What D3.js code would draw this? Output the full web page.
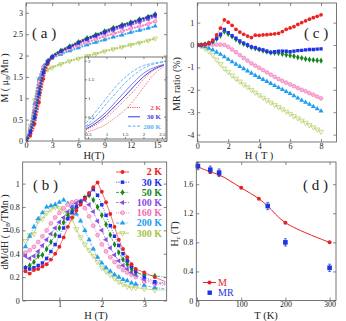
<!DOCTYPE html>
<html>
<head>
<meta charset="utf-8">
<script src="https://cdn.jsdelivr.net/npm/d3@7"></script>
<style>
  body { margin: 0; background: #fff; }
  svg { display: block; }
</style>
</head>
<body>
<script>
let w = 346;
let h = 321;

// ---- (a) M vs H, main plot
const hA = [0, 0.5, 1, 1.5, 2, 2.5, 3, 4, 5, 6, 7, 8, 9, 10, 11, 12, 13, 14, 14.8];
const mA_2 = [0, 0.12, 0.4, 0.9, 1.45, 1.8, 1.95, 2.1, 2.2, 2.3, 2.4, 2.48, 2.56, 2.64, 2.71, 2.77, 2.83, 2.9, 2.96];
const mA_30 = [0, 0.2, 0.55, 1.1, 1.6, 1.85, 1.97, 2.1, 2.2, 2.3, 2.39, 2.47, 2.55, 2.63, 2.7, 2.76, 2.83, 2.9, 2.95];
const mA_50 = [0, 0.22, 0.6, 1.15, 1.62, 1.86, 1.98, 2.12, 2.22, 2.32, 2.41, 2.49, 2.57, 2.65, 2.72, 2.78, 2.85, 2.91, 2.97];
const mA_100 = [0, 0.25, 0.68, 1.25, 1.68, 1.88, 1.97, 2.1, 2.2, 2.29, 2.37, 2.45, 2.52, 2.59, 2.66, 2.72, 2.78, 2.85, 2.91];
const mA_160 = [0, 0.3, 0.8, 1.38, 1.73, 1.88, 1.96, 2.07, 2.16, 2.24, 2.31, 2.38, 2.45, 2.51, 2.57, 2.63, 2.68, 2.74, 2.8];
const mA_200 = [0, 0.32, 0.88, 1.45, 1.75, 1.87, 1.94, 2.03, 2.11, 2.18, 2.25, 2.31, 2.37, 2.43, 2.48, 2.54, 2.59, 2.64, 2.69];
const mA_300 = [0, 0.36, 0.95, 1.45, 1.6, 1.67, 1.72, 1.8, 1.87, 1.93, 1.99, 2.04, 2.1, 2.15, 2.2, 2.25, 2.3, 2.35, 2.4];

// ---- (a) inset, low-field loops (two branches each)
const hIn = [0.45, 0.75, 1, 1.25, 1.5, 1.75, 2, 2.25, 2.55];
const in2up = [0.08, 0.18, 0.3, 0.48, 0.68, 0.95, 1.28, 1.6, 1.85];
const in2dn = [0.15, 0.3, 0.48, 0.7, 0.95, 1.2, 1.5, 1.72, 1.9];
const in30up = [0.17, 0.35, 0.55, 0.8, 1.05, 1.32, 1.57, 1.75, 1.88];
const in30dn = [0.22, 0.42, 0.63, 0.9, 1.17, 1.43, 1.66, 1.8, 1.9];
const in200up = [0.25, 0.55, 0.85, 1.12, 1.4, 1.62, 1.8, 1.9, 1.96];
const in200dn = [0.33, 0.68, 1.0, 1.3, 1.55, 1.74, 1.87, 1.93, 1.98];

// ---- (b) dM/dH vs H
const hB = [0.2, 0.3, 0.4, 0.5, 0.6, 0.7, 0.8, 0.9, 1.0, 1.1, 1.2, 1.3, 1.4, 1.5, 1.6, 1.7, 1.8, 1.9, 2.0, 2.1, 2.2, 2.3, 2.4, 2.5, 2.6, 2.7, 2.8, 3.0, 3.25, 3.5];
const dB_2 = [0.25, 0.23, 0.26, 0.27, 0.29, 0.31, 0.35, 0.4, 0.46, 0.54, 0.63, 0.71, 0.77, 0.82, 0.87, 0.92, 0.97, 1.01, 0.93, 0.84, 0.74, 0.63, 0.52, 0.44, 0.37, 0.31, 0.27, 0.24, 0.2, 0.16];
const dB_30 = [0.28, 0.27, 0.28, 0.3, 0.32, 0.36, 0.42, 0.48, 0.55, 0.62, 0.7, 0.75, 0.8, 0.84, 0.88, 0.91, 0.95, 0.9, 0.82, 0.73, 0.64, 0.55, 0.47, 0.4, 0.34, 0.29, 0.25, 0.2, 0.16, 0.15];
const dB_50 = [0.28, 0.3, 0.33, 0.38, 0.39, 0.44, 0.5, 0.56, 0.62, 0.67, 0.73, 0.77, 0.8, 0.84, 0.88, 0.9, 0.86, 0.8, 0.73, 0.65, 0.56, 0.48, 0.41, 0.35, 0.31, 0.27, 0.24, 0.22, 0.21, 0.2];
const dB_100 = [0.38, 0.36, 0.38, 0.42, 0.47, 0.52, 0.57, 0.62, 0.67, 0.71, 0.76, 0.8, 0.83, 0.85, 0.86, 0.82, 0.76, 0.68, 0.6, 0.52, 0.45, 0.39, 0.34, 0.3, 0.27, 0.24, 0.22, 0.18, 0.15, 0.14];
const dB_160 = [0.41, 0.43, 0.46, 0.5, 0.55, 0.6, 0.66, 0.71, 0.75, 0.79, 0.82, 0.84, 0.85, 0.85, 0.79, 0.72, 0.64, 0.56, 0.48, 0.42, 0.37, 0.33, 0.29, 0.26, 0.24, 0.22, 0.2, 0.16, 0.14, 0.13];
const dB_200 = [0.46, 0.55, 0.63, 0.7, 0.75, 0.8, 0.81, 0.82, 0.84, 0.86, 0.83, 0.8, 0.74, 0.68, 0.6, 0.52, 0.44, 0.37, 0.32, 0.28, 0.25, 0.22, 0.2, 0.18, 0.17, 0.15, 0.14, 0.13, 0.11, 0.1];
const dB_300 = [0.51, 0.56, 0.57, 0.68, 0.7, 0.75, 0.78, 0.8, 0.79, 0.77, 0.73, 0.7, 0.61, 0.54, 0.48, 0.43, 0.38, 0.33, 0.28, 0.25, 0.22, 0.19, 0.16, 0.14, 0.12, 0.11, 0.11, 0.1, 0.09, 0.09];

// ---- (c) MR ratio vs H
const hC = [0, 0.25, 0.5, 0.75, 1, 1.25, 1.5, 1.75, 2, 2.25, 2.5, 2.75, 3, 3.25, 3.5, 3.75, 4, 4.25, 4.5, 4.75, 5, 5.25, 5.5, 5.75, 6, 6.25, 6.5, 6.75, 7, 7.25, 7.5, 7.75, 8];
const mr_2 = [0, 0, 0.03, 0.1, 0.22, 0.45, 0.75, 1.12, 1.02, 0.88, 0.7, 0.58, 0.48, 0.4, 0.33, 0.44, 0.43, 0.45, 0.46, 0.48, 0.5, 0.52, 0.6, 0.7, 0.76, 0.82, 0.92, 1.0, 1.08, 1.15, 1.22, 1.28, 1.35];
const mr_30 = [0, 0, 0.03, 0.08, 0.18, 0.3, 0.48, 0.7, 0.55, 0.42, 0.3, 0.18, 0.08, 0, -0.08, -0.12, -0.18, -0.22, -0.28, -0.33, -0.3, -0.28, -0.27, -0.28, -0.3, -0.27, -0.25, -0.24, -0.22, -0.2, -0.2, -0.18, -0.17];
const mr_50 = [0, 0, 0.03, 0.08, 0.15, 0.27, 0.42, 0.6, 0.5, 0.38, 0.25, 0.13, 0.05, -0.02, -0.1, -0.15, -0.2, -0.25, -0.3, -0.34, -0.35, -0.36, -0.4, -0.44, -0.47, -0.5, -0.55, -0.58, -0.62, -0.65, -0.67, -0.69, -0.7];
const mr_160 = [0, 0, 0, 0.01, 0.02, 0.02, 0.02, 0, -0.08, -0.2, -0.32, -0.45, -0.58, -0.7, -0.82, -0.92, -1.02, -1.12, -1.22, -1.32, -1.42, -1.52, -1.6, -1.68, -1.76, -1.84, -1.92, -2.0, -2.07, -2.15, -2.22, -2.3, -2.38];
const mr_200 = [0, -0.03, -0.08, -0.15, -0.22, -0.32, -0.42, -0.53, -0.64, -0.75, -0.86, -0.96, -1.06, -1.16, -1.26, -1.36, -1.45, -1.54, -1.63, -1.72, -1.81, -1.9, -1.99, -2.08, -2.17, -2.27, -2.37, -2.47, -2.56, -2.65, -2.75, -2.85, -2.95];
const mr_300 = [0, -0.05, -0.15, -0.28, -0.45, -0.65, -0.85, -1.05, -1.2, -1.35, -1.5, -1.63, -1.76, -1.88, -2.0, -2.12, -2.24, -2.35, -2.46, -2.57, -2.67, -2.77, -2.87, -2.97, -3.07, -3.17, -3.27, -3.37, -3.47, -3.57, -3.67, -3.77, -3.87];

// ---- (d) critical field vs T
const tM = [2, 30, 50, 100, 140, 160, 200, 300];
const hcM = [1.84, 1.77, 1.73, 1.55, 1.4, 1.3, 1.07, 0.8];
const tMR = [2, 30, 50, 160, 200, 300];
const hcMR = [1.85, 1.8, 1.76, 1.3, 0.8, 0.45];
const errMR = [0.05, 0.05, 0.05, 0.05, 0.05, 0.05];

// tick values
const ticksAx = [0, 3, 6, 9, 12, 15];
const ticksAy = [0, 0.5, 1, 1.5, 2, 2.5, 3];
const ticksInx = [0.5, 1, 1.5, 2, 2.5];
const ticksIny = [0.5, 1, 1.5, 2];
const ticksBx = [1, 2, 3];
const ticksBy = [0, 0.2, 0.4, 0.6, 0.8, 1];
const ticksCx = [0, 2, 4, 6, 8];
const ticksCy = [1, 0, -1, -2, -3, -4];
const ticksDx = [0, 100, 200, 300];
const ticksDy = [0, 0.4, 0.8, 1.2, 1.6];

// looks for each temperature
const sty = {
  "2 K": { c: "#ec2323", sym: d3.symbolCircle, rot: 0, fill: "#ec2323", dash: null },
  "30 K": { c: "#1f33e8", sym: d3.symbolSquare, rot: 0, fill: "#1f33e8", dash: "1.2,1.2" },
  "50 K": { c: "#16861b", sym: d3.symbolDiamond, rot: 0, fill: "#16861b", dash: "3,1.2,1,1.2" },
  "100 K": { c: "#8a4fe0", sym: d3.symbolTriangle, rot: -90, fill: "#8a4fe0", dash: "2.5,1.5" },
  "160 K": { c: "#f06cb4", sym: d3.symbolCircle, rot: 0, fill: "#f8b6da", dash: "1,1" },
  "200 K": { c: "#1e9ef0", sym: d3.symbolTriangle, rot: 0, fill: "#1e9ef0", dash: "3,1.2,1,1.2" },
  "300 K": { c: "#a6c44a", sym: d3.symbolTriangle, rot: 180, fill: "none", dash: null }
};

const serif = "'Liberation Serif', 'DejaVu Serif', serif";

let svg = d3.select("body").append("svg").attr("width", w).attr("height", h)
  .style("font-family", serif);
svg.append("rect").attr("width", w).attr("height", h).attr("fill", "#fff");

let clipN = 0;
function clipFor(x, y) {
  let id = "clip" + clipN++;
  svg.append("clipPath").attr("id", id).append("rect")
    .attr("x", x.range()[0]).attr("y", y.range()[1])
    .attr("width", x.range()[1] - x.range()[0])
    .attr("height", y.range()[0] - y.range()[1]);
  return "url(#" + id + ")";
}

// frame with inward ticks on all four sides; labels bottom and left
function axes(x, y, xt, yt, fs, tk, inside) {
  let x0 = x.range()[0], x1 = x.range()[1];
  let y0 = y.range()[0], y1 = y.range()[1];
  let fix = (g, show) => {
    g.select(".domain").remove();
    g.attr("font-family", serif).attr("font-size", fs);
    g.selectAll(".tick line").attr("stroke", "#555").attr("stroke-width", 0.7);
    g.selectAll("text").attr("fill", "#222");
    if (!show) g.selectAll("text").remove();
  };
  svg.append("g").attr("transform", "translate(0," + y0 + ")")
    .call(d3.axisBottom(x).tickValues(xt).tickSize(-tk).tickPadding(inside ? -6.5 : 1).tickFormat(d => d))
    .call(g => fix(g, true));
  svg.append("g").attr("transform", "translate(0," + y1 + ")")
    .call(d3.axisTop(x).tickValues(xt).tickSize(-tk))
    .call(g => fix(g, false));
  svg.append("g").attr("transform", "translate(" + x0 + ",0)")
    .call(d3.axisLeft(y).tickValues(yt).tickSize(-tk).tickPadding(inside ? -3 : 3).tickFormat(d => d))
    .call(g => fix(g, true))
    .call(g => { if (inside) g.attr("text-anchor", "start"); });
  svg.append("g").attr("transform", "translate(" + x1 + ",0)")
    .call(d3.axisRight(y).tickValues(yt).tickSize(-tk))
    .call(g => fix(g, false));
  svg.append("rect")
    .attr("x", x0).attr("y", y1).attr("width", x1 - x0).attr("height", y0 - y1)
    .attr("fill", "none").attr("stroke", "#555").attr("stroke-width", 0.8);
}

function markers(g, pts, x, y, st, size) {
  g.selectAll(null).data(pts).enter().append("path")
    .attr("d", d3.symbol().type(st.sym).size(size))
    .attr("transform", d => "translate(" + x(d[0]) + "," + y(d[1]) + ") rotate(" + st.rot + ")")
    .attr("fill", st.fill)
    .attr("stroke", st.fill === "none" || st.fill !== st.c ? st.c : "none")
    .attr("stroke-width", 0.6);
}

function zip(xs, ys) {
  return xs.map((v, i) => [v, ys[i]]);
}

function label(x, y, txt, size, rot) {
  let t = svg.append("text").attr("x", x).attr("y", y)
    .attr("font-size", size).attr("fill", "#222").attr("text-anchor", "middle");
  if (txt) t.text(txt);
  if (rot) t.attr("transform", "rotate(-90," + x + "," + y + ")");
  return t;
}

// ================= (a)
{
  let x = d3.scaleLinear().domain([0, 16.15]).range([26, 167]);
  let y = d3.scaleLinear().domain([0, 3.23]).range([141, 3]);
  let g = svg.append("g").attr("clip-path", clipFor(x, y));
  let series = [["300 K", mA_300], ["200 K", mA_200], ["160 K", mA_160], ["100 K", mA_100],
                ["2 K", mA_2], ["50 K", mA_50], ["30 K", mA_30]];
  let line = d3.line().x(d => x(d[0])).y(d => y(d[1])).curve(d3.curveMonotoneX);
  series.forEach(([k, v]) => {
    let st = sty[k];
    g.append("path").datum(zip(hA, v)).attr("d", line)
      .attr("fill", "none").attr("stroke", st.c).attr("stroke-width", 2)
      .attr("stroke-dasharray", "2,0.8").attr("opacity", 0.85);
    markers(g, zip(hA, v), x, y, st, 10);
  });
  axes(x, y, ticksAx, ticksAy, 8, 3);
  label(94, 159, "H(T)", 10.5);
  let yl = label(8, 78, "", 10, true);
  yl.append("tspan").text("M ( μ");
  yl.append("tspan").attr("dy", 2).attr("font-size", 6).text("B");
  yl.append("tspan").attr("dy", -2).text("/Mn )");
  svg.append("text").attr("x", 32).attr("y", 38).attr("font-size", 15).attr("fill", "#222")
    .attr("xml:space", "preserve").text("( a )");

  // inset
  let xi = d3.scaleLinear().domain([0.42, 2.61]).range([85, 166]);
  let yi = d3.scaleLinear().domain([-0.1, 2.1]).range([139, 57]);
  svg.append("rect").attr("x", 85).attr("y", 57).attr("width", 81).attr("height", 82).attr("fill", "#fff");
  let gi = svg.append("g").attr("clip-path", clipFor(xi, yi));
  let il = d3.line().x(d => xi(d[0])).y(d => yi(d[1])).curve(d3.curveMonotoneX);
  let loops = [
    [in2up, "#f04848", "1,1.2"], [in2dn, "#f04848", "1,1.2"],
    [in30up, "#2a2fd8", null], [in30dn, "#6a6cf0", null],
    [in200up, "#58b0f4", "3,1.5"], [in200dn, "#58b0f4", "3,1.5"]
  ];
  loops.forEach(([v, c, d]) => {
    gi.append("path").datum(zip(hIn, v)).attr("d", il).attr("fill", "none")
      .attr("stroke", c).attr("stroke-width", 0.9).attr("stroke-dasharray", d);
  });
  axes(xi, yi, ticksInx, ticksIny, 5, 2, true);
  let leg = [["2 K", "#f04848", "1,1.2"], ["30 K", "#3a3ae0", null], ["200 K", "#58b0f4", "3,1.5"]];
  leg.forEach(([t, c, d], i) => {
    let yy = 107.5 + i * 9.3;
    svg.append("line").attr("x1", 128).attr("x2", 140).attr("y1", yy).attr("y2", yy)
      .attr("stroke", c).attr("stroke-width", 1).attr("stroke-dasharray", d);
    svg.append("text").attr("x", 161).attr("y", yy + 2.4).attr("text-anchor", "end")
      .attr("font-size", 7).attr("font-weight", "bold").attr("fill", c).text(t);
  });
}

// ================= (c)
{
  let x = d3.scaleLinear().domain([0, 9]).range([197.3, 336.5]);
  let y = d3.scaleLinear().domain([-4.33, 1.875]).range([142, 3]);
  let g = svg.append("g").attr("clip-path", clipFor(x, y));
  let series = [["300 K", mr_300], ["200 K", mr_200], ["160 K", mr_160], ["50 K", mr_50], ["30 K", mr_30], ["2 K", mr_2]];
  let line = d3.line().x(d => x(d[0])).y(d => y(d[1]));
  series.forEach(([k, v]) => {
    let st = sty[k];
    g.append("path").datum(zip(hC, v)).attr("d", line)
      .attr("fill", "none").attr("stroke", st.c).attr("stroke-width", 0.5).attr("opacity", 0.7);
    markers(g, zip(hC, v), x, y, st, 11);
  });
  axes(x, y, ticksCx, ticksCy, 8, 3);
  label(259, 159, "H ( T )", 10.5);
  label(180, 84, "MR ratio (%)", 10, true);
  svg.append("text").attr("x", 304).attr("y", 38).attr("font-size", 15).attr("fill", "#222")
    .attr("xml:space", "preserve").text("( c )");
}

// ================= (b)
{
  let x = d3.scaleLinear().domain([0.135, 3.53]).range([22.7, 166.7]);
  let y = d3.scaleLinear().domain([0, 1.185]).range([300.5, 162]);
  let g = svg.append("g").attr("clip-path", clipFor(x, y));
  let series = [["300 K", dB_300], ["200 K", dB_200], ["160 K", dB_160], ["100 K", dB_100],
                ["50 K", dB_50], ["30 K", dB_30], ["2 K", dB_2]];
  let line = d3.line().x(d => x(d[0])).y(d => y(d[1]));
  series.forEach(([k, v]) => {
    let st = sty[k];
    g.append("path").datum(zip(hB, v)).attr("d", line)
      .attr("fill", "none").attr("stroke", st.c).attr("stroke-width", 0.8)
      .attr("stroke-dasharray", st.dash).attr("opacity", 0.8);
    markers(g, zip(hB, v).slice(0, -1), x, y, st, 12);
  });
  axes(x, y, ticksBx, ticksBy, 8, 3);
  label(96, 319, "H (T)", 10.5);
  let yl = label(8, 232, "", 10, true);
  yl.append("tspan").text("dM/dH ( μ");
  yl.append("tspan").attr("dy", 2).attr("font-size", 6).text("B");
  yl.append("tspan").attr("dy", -2).text("/TMn )");
  svg.append("text").attr("x", 33).attr("y", 190).attr("font-size", 15).attr("fill", "#222")
    .attr("xml:space", "preserve").text("( b )");

  // legend
  Object.keys(sty).forEach((k, i) => {
    let st = sty[k];
    let yy = 172 + i * 10.2;
    svg.append("line").attr("x1", 116).attr("x2", 129).attr("y1", yy).attr("y2", yy)
      .attr("stroke", st.c).attr("stroke-width", 0.8).attr("stroke-dasharray", st.dash);
    markers(svg, [[122.5, yy]], d => d, d => d, st, 12);
    svg.append("text").attr("x", 162).attr("y", yy + 3.3).attr("text-anchor", "end")
      .attr("font-size", 10).attr("font-weight", "bold").attr("fill", st.c).text(k);
  });
}

// ================= (d)
{
  let x = d3.scaleLinear().domain([-1.6, 314.5]).range([196.3, 336]);
  let y = d3.scaleLinear().domain([0, 1.906]).range([300.5, 162]);
  let g = svg.append("g");
  let red = "#e52222", blue = "#1b35e0";
  g.append("path").datum(zip(tM, hcM))
    .attr("d", d3.line().x(d => x(d[0])).y(d => y(d[1])).curve(d3.curveCatmullRom))
    .attr("fill", "none").attr("stroke", red).attr("stroke-width", 1);
  g.selectAll(".pm").data(zip(tM, hcM)).enter().append("circle")
    .attr("cx", d => x(d[0])).attr("cy", d => y(d[1])).attr("r", 2).attr("fill", red);
  let mr = tMR.map((t, i) => [t, hcMR[i], errMR[i]]);
  g.selectAll(".eb").data(mr).enter().append("path")
    .attr("d", d => "M" + x(d[0]) + "," + y(d[1] - d[2]) + "V" + y(d[1] + d[2]) +
      "M" + (x(d[0]) - 1.5) + "," + y(d[1] - d[2]) + "h3" +
      "M" + (x(d[0]) - 1.5) + "," + y(d[1] + d[2]) + "h3")
    .attr("stroke", blue).attr("stroke-width", 0.7).attr("fill", "none");
  g.selectAll(".pr").data(mr).enter().append("rect")
    .attr("x", d => x(d[0]) - 2.3).attr("y", d => y(d[1]) - 2.3)
    .attr("width", 4.6).attr("height", 4.6).attr("fill", blue);
  axes(x, y, ticksDx, ticksDy, 8, 3);
  label(266, 319, "T (K)", 10.5);
  let yl = label(178, 234, "", 10, true);
  yl.append("tspan").text("H");
  yl.append("tspan").attr("dy", 2).attr("font-size", 6).text("c");
  yl.append("tspan").attr("dy", -2).text(" (T)");
  svg.append("text").attr("x", 303).attr("y", 190).attr("font-size", 15).attr("fill", "#222")
    .attr("xml:space", "preserve").text("( d )");

  // legend
  svg.append("line").attr("x1", 203).attr("x2", 216).attr("y1", 282.5).attr("y2", 282.5)
    .attr("stroke", red).attr("stroke-width", 1);
  svg.append("circle").attr("cx", 209.5).attr("cy", 282.5).attr("r", 2).attr("fill", red);
  svg.append("text").attr("x", 218).attr("y", 286).attr("font-size", 10).attr("fill", red).text("M");
  svg.append("rect").attr("x", 207.5).attr("y", 290.5).attr("width", 4.4).attr("height", 4.4).attr("fill", blue);
  svg.append("text").attr("x", 218).attr("y", 296).attr("font-size", 10).attr("fill", blue).text("MR");
}
</script>
</body>
</html>
